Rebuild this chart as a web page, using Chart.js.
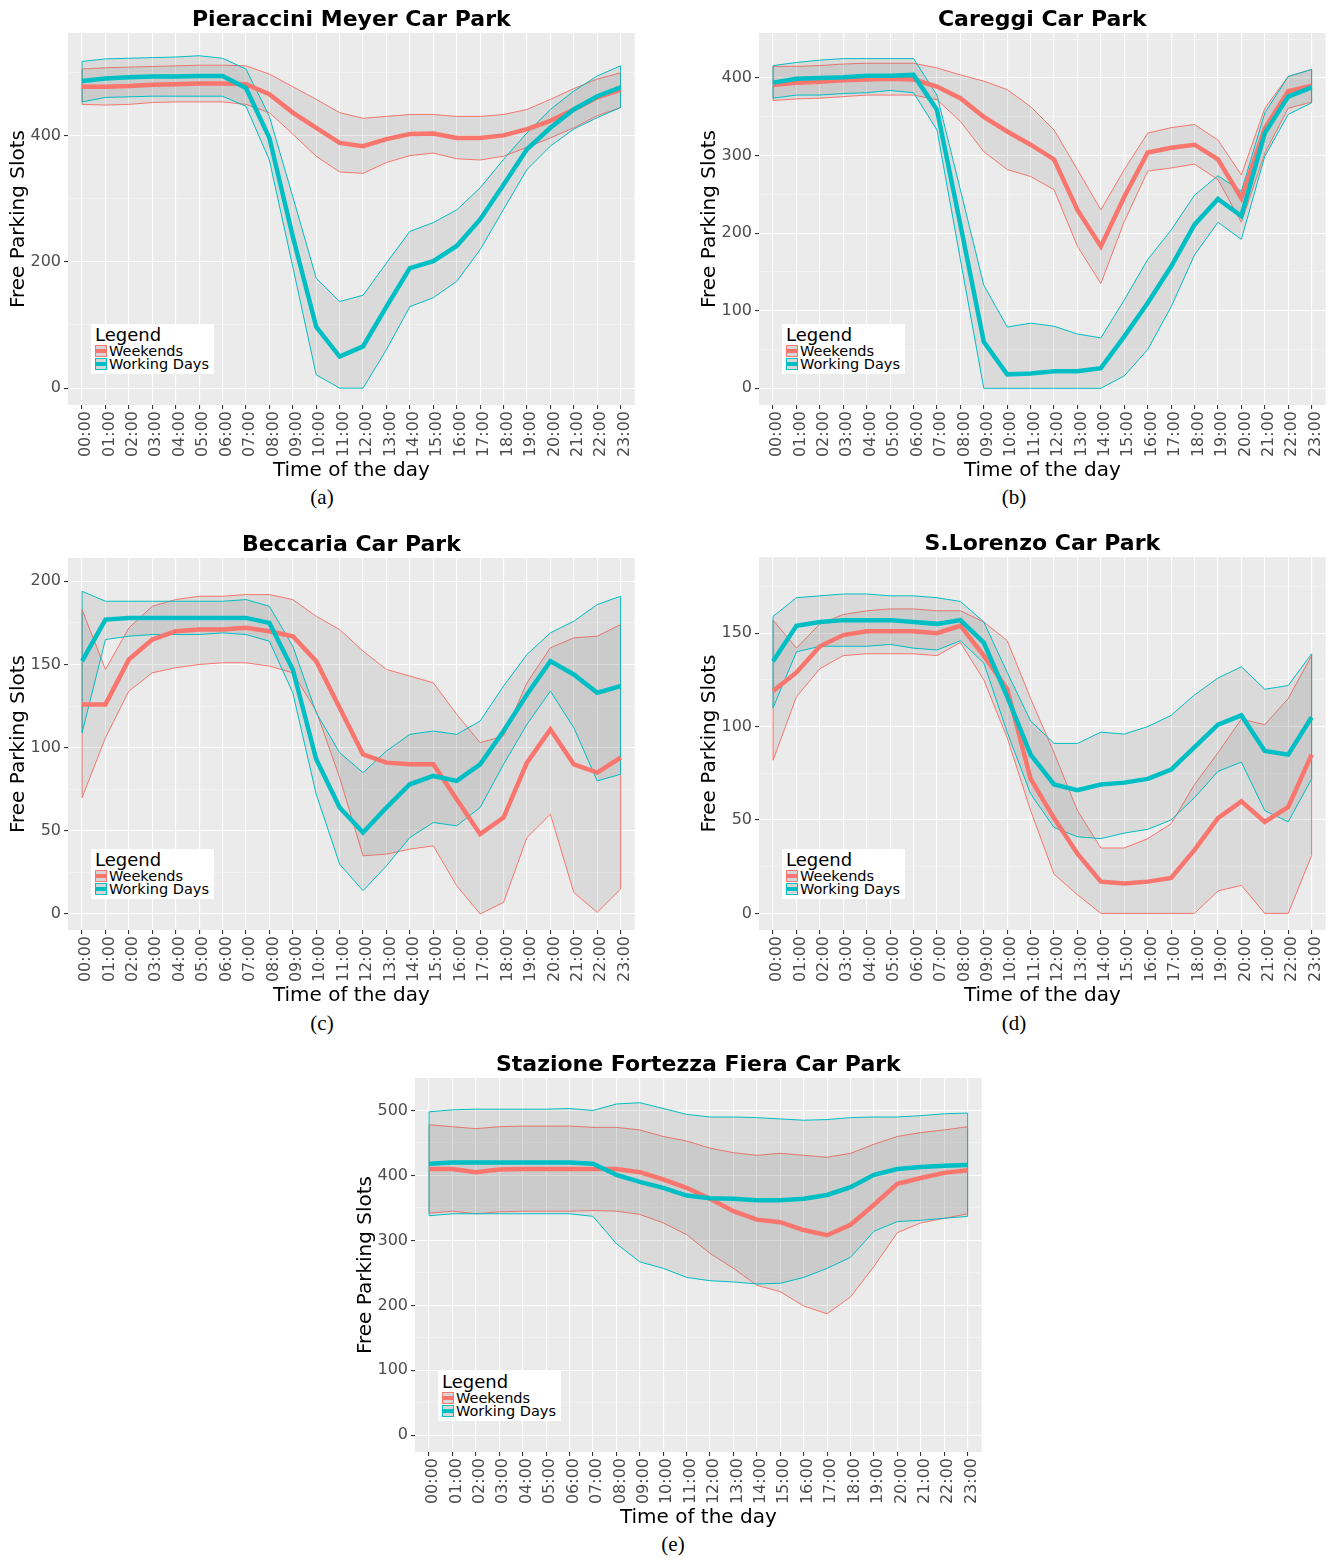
<!DOCTYPE html>
<html>
<head>
<meta charset="utf-8">
<script src="https://cdn.jsdelivr.net/npm/chart.js@4.4.1/dist/chart.umd.min.js"></script>
<style>
  body { margin: 0; background: #fff; }
  #page { position: relative; width: 1342px; height: 1558px; overflow: hidden; }
  canvas { position: absolute; }
  .legend { position: absolute; width: 123px; height: 50px; background: #fff; font-family: 'DejaVu Sans', sans-serif; color: #000; }
  .legend .ttl { position: absolute; left: 4px; top: 0; font-size: 18px; line-height: 22px; }
  .legend .key { position: absolute; left: 4px; width: 10px; height: 10px; border: 1px solid; background: #d6d6d6; }
  .legend .key i { position: absolute; left: 0; right: 0; top: 3px; height: 4px; }
  .legend .lab { position: absolute; left: 18px; font-size: 14.5px; line-height: 13px; white-space: nowrap; }
  .caption { position: absolute; width: 60px; text-align: center; font-family: 'Liberation Serif', serif; font-size: 21px; line-height: 24px; }
</style>
</head>
<body>
<div id="page"></div>
<script>
// horas do dia (eixo x)
const hours = ['00:00','01:00','02:00','03:00','04:00','05:00','06:00','07:00','08:00','09:00','10:00','11:00',
  '12:00','13:00','14:00','15:00','16:00','17:00','18:00','19:00','20:00','21:00','22:00','23:00'];

// (a) Pieraccini Meyer
const meyerWkMean = [477,477,478,480,481,482,482,481,465,436,412,388,383,394,402,403,396,396,400,410,423,441,460,472];
const meyerWkHigh = [505,507,508,509,510,511,511,510,497,477,457,436,427,430,433,433,430,430,433,441,457,474,489,499];
const meyerWkLow  = [449,448,449,452,453,453,453,449,436,402,367,342,340,357,368,372,363,361,367,381,396,412,431,444];
const meyerWdMean = [486,490,492,493,493,494,494,475,396,240,97,50,66,129,190,201,225,267,322,378,412,441,462,476];
const meyerWdHigh = [517,521,522,523,524,526,522,505,430,303,174,137,147,198,248,262,282,317,362,404,441,470,494,510];
const meyerWdLow  = [453,460,461,462,462,462,462,446,361,192,21,0,0,61,129,143,169,219,283,346,383,410,428,444];
const meyerMajor = [0, 200, 400];
const meyerMinor = [100, 300, 500];

// (b) Careggi
const careggiWkMean = [391,394,395,397,398,399,398,389,374,350,331,314,295,230,183,247,304,310,314,295,245,335,383,390];
const careggiWkHigh = [415,415,416,418,419,419,419,413,404,396,385,363,333,282,230,282,329,336,340,320,275,361,402,411];
const careggiWkLow  = [371,373,374,376,378,378,378,372,344,305,282,273,256,183,135,215,280,284,289,269,214,303,361,369];
const careggiWdMean = [394,399,400,401,403,403,404,359,211,60,18,19,22,22,26,67,110,157,211,244,222,329,376,388];
const careggiWdHigh = [416,420,423,425,425,425,425,378,256,133,79,84,80,70,65,114,166,204,249,274,254,355,402,411];
const careggiWdLow  = [374,378,378,380,381,384,381,333,166,0,0,0,0,0,0,16,50,105,172,214,192,299,353,368];
const careggiMajor = [0, 100, 200, 300, 400];
const careggiMinor = [50, 150, 250, 350, 450];

// (c) Beccaria
const beccariaWkMean = [126,126,153,165,170,171,171,172,170,167,152,124,96,91,90,90,69,48,58,91,111,90,85,94];
const beccariaWkHigh = [183,147,172,185,189,191,191,192,192,189,179,171,158,147,143,139,120,103,107,139,160,166,167,174];
const beccariaWkLow  = [70,106,134,145,148,150,151,151,149,145,122,82,35,36,39,41,17,0,7,46,60,13,1,15];
const beccariaWdMean = [152,177,178,178,178,178,178,178,175,147,93,64,49,64,78,83,80,90,110,132,152,144,133,137];
const beccariaWdHigh = [194,188,188,188,188,188,188,189,185,161,121,97,85,98,108,110,108,116,137,156,169,176,186,191];
const beccariaWdLow  = [109,165,167,168,168,168,169,168,164,133,72,30,14,29,46,55,53,64,90,114,134,112,80,84];
const beccariaMajor = [0, 50, 100, 150, 200];
const beccariaMinor = [25, 75, 125, 175];

// (d) S.Lorenzo
const lorenzoWkMean = [119,129,143,149,151,151,151,150,154,138,120,72,51,32,17,16,17,19,34,51,60,49,57,85];
const lorenzoWkHigh = [157,142,155,160,162,163,163,162,162,156,146,115,86,55,35,35,40,48,69,86,104,101,115,138];
const lorenzoWkLow  = [82,116,131,138,139,139,139,138,145,125,94,55,21,10,0,0,0,0,0,12,15,0,0,31];
const lorenzoWdMean = [135,154,156,157,157,157,156,155,157,145,116,85,69,66,69,70,72,77,89,101,106,87,85,105];
const lorenzoWdHigh = [159,169,170,171,171,170,170,169,167,156,129,103,91,91,97,96,100,106,117,126,132,120,122,139];
const lorenzoWdLow  = [110,140,143,143,143,144,142,141,146,134,97,64,46,41,40,43,45,50,62,76,81,55,49,72];
const lorenzoMajor = [0, 50, 100, 150];
const lorenzoMinor = [25, 75, 125, 175];

// (e) Stazione Fortezza Fiera
const fortezzaWkMean = [410,410,405,409,410,410,410,410,410,405,394,381,364,345,332,328,316,308,324,355,387,396,404,408];
const fortezzaWkHigh = [478,475,472,475,476,476,476,474,474,470,460,453,442,435,431,434,431,428,434,448,460,466,470,475];
const fortezzaWkLow  = [342,345,341,344,345,345,345,346,345,340,327,309,280,257,231,221,199,187,213,260,312,327,334,341];
const fortezzaWdMean = [418,420,420,420,420,420,420,418,401,390,381,369,365,364,362,362,364,370,382,401,410,413,415,416];
const fortezzaWdHigh = [498,501,502,502,502,502,503,500,510,512,503,494,490,490,489,487,485,486,489,490,490,492,495,496];
const fortezzaWdLow  = [338,341,341,341,341,341,341,337,295,267,257,243,238,236,233,234,243,257,274,314,329,331,334,337];
const fortezzaMajor = [0, 100, 200, 300, 400, 500];
const fortezzaMinor = [50, 150, 250, 350, 450];

const RED = '#F8766D';
const CYAN = '#00BFC4';
const BAND = 'rgba(120,120,120,0.15)';
const FONT = "'DejaVu Sans', sans-serif";

// painéis: área do gráfico (px na página) e escala y
const panels = [
  { title: 'Pieraccini Meyer Car Park', cap: '(a)', L: 68, T: 33, R: 636, B: 405, yMin: -26.7, yMax: 562,
    wk: [meyerWkMean, meyerWkHigh, meyerWkLow], wd: [meyerWdMean, meyerWdHigh, meyerWdLow], major: meyerMajor, minor: meyerMinor, capX: 322, capY: 497 },
  { title: 'Careggi Car Park', cap: '(b)', L: 759, T: 33, R: 1327, B: 405, yMin: -21.5, yMax: 458,
    wk: [careggiWkMean, careggiWkHigh, careggiWkLow], wd: [careggiWdMean, careggiWdHigh, careggiWdLow], major: careggiMajor, minor: careggiMinor, capX: 1014, capY: 497 },
  { title: 'Beccaria Car Park', cap: '(c)', L: 68, T: 558, R: 636, B: 930, yMin: -9.6, yMax: 214,
    wk: [beccariaWkMean, beccariaWkHigh, beccariaWkLow], wd: [beccariaWdMean, beccariaWdHigh, beccariaWdLow], major: beccariaMajor, minor: beccariaMinor, capX: 322, capY: 1023 },
  { title: 'S.Lorenzo Car Park', cap: '(d)', L: 759, T: 557, R: 1327, B: 930, yMin: -8.9, yMax: 190.8,
    wk: [lorenzoWkMean, lorenzoWkHigh, lorenzoWkLow], wd: [lorenzoWdMean, lorenzoWdHigh, lorenzoWdLow], major: lorenzoMajor, minor: lorenzoMinor, capX: 1014, capY: 1023 },
  { title: 'Stazione Fortezza Fiera Car Park', cap: '(e)', L: 415, T: 1078, R: 983, B: 1452, yMin: -25.7, yMax: 550,
    wk: [fortezzaWkMean, fortezzaWkHigh, fortezzaWkLow], wd: [fortezzaWdMean, fortezzaWdHigh, fortezzaWdLow], major: fortezzaMajor, minor: fortezzaMinor, capX: 673, capY: 1544 }
];

// fundo cinza do painel (estilo ggplot)
const plotBackground = {
  id: 'plotBackground',
  beforeDraw(chart) {
    const { ctx, chartArea: a } = chart;
    ctx.save();
    ctx.fillStyle = '#EBEBEB';
    ctx.fillRect(a.left, a.top, a.right - a.left, a.bottom - a.top);
    ctx.restore();
  }
};

// fecha as pontas das faixas com uma linha vertical
const ribbonEnds = {
  id: 'ribbonEnds',
  beforeDatasetsDraw(chart) {
    const ctx = chart.ctx;
    [[0, 1], [2, 3]].forEach(([hi, lo]) => {
      const top = chart.getDatasetMeta(hi).data;
      const bot = chart.getDatasetMeta(lo).data;
      ctx.save();
      ctx.strokeStyle = chart.data.datasets[hi].borderColor;
      ctx.lineWidth = 1;
      [0, top.length - 1].forEach(i => {
        ctx.beginPath();
        ctx.moveTo(top[i].x, top[i].y);
        ctx.lineTo(bot[i].x, bot[i].y);
        ctx.stroke();
      });
      ctx.restore();
    });
  }
};

const pts = arr => arr.map((v, i) => ({ x: i, y: v }));

const page = document.getElementById('page');

panels.forEach(p => {
  const canvas = document.createElement('canvas');
  canvas.width = p.R - p.L + 74;
  canvas.height = p.B - p.T + 113;
  canvas.style.left = (p.L - 68) + 'px';
  canvas.style.top = (p.T - 33) + 'px';
  page.appendChild(canvas);

  const allTicks = p.major.concat(p.minor).sort((a, b) => a - b);
  const isMajor = v => p.major.includes(v);

  new Chart(canvas, {
    type: 'line',
    data: {
      datasets: [
        { data: pts(p.wk[1]), borderColor: RED, borderWidth: 1, backgroundColor: BAND, fill: '+1', pointRadius: 0, order: 5 },
        { data: pts(p.wk[2]), borderColor: RED, borderWidth: 1, fill: false, pointRadius: 0, order: 4 },
        { data: pts(p.wd[1]), borderColor: CYAN, borderWidth: 1, backgroundColor: BAND, fill: '+1', pointRadius: 0, order: 3 },
        { data: pts(p.wd[2]), borderColor: CYAN, borderWidth: 1, fill: false, pointRadius: 0, order: 2 },
        { label: 'Weekends', data: pts(p.wk[0]), borderColor: RED, borderWidth: 4.5, fill: false, pointRadius: 0, order: 1 },
        { label: 'Working Days', data: pts(p.wd[0]), borderColor: CYAN, borderWidth: 4.5, fill: false, pointRadius: 0, order: 0 }
      ]
    },
    options: {
      responsive: false,
      animation: false,
      layout: { padding: { right: 6 } },
      plugins: {
        legend: { display: false },
        tooltip: { enabled: false },
        title: {
          display: true, text: p.title, fullSize: false, color: '#000',
          font: { family: FONT, size: 22, weight: 'bold' },
          padding: { top: 6.6, bottom: 0 }
        }
      },
      scales: {
        x: {
          type: 'linear', min: -0.6, max: 23.6,
          afterBuildTicks: s => { s.ticks = hours.map((h, i) => ({ value: i })); },
          afterFit: s => { s.height = 80; },
          ticks: {
            autoSkip: false, minRotation: 90, maxRotation: 90, padding: 2, labelOffset: 4,
            color: '#4D4D4D', font: { family: FONT, size: 16 },
            callback: v => hours[v]
          },
          grid: { color: '#FFFFFF', lineWidth: 1.1, tickLength: 4, tickColor: '#333333' },
          border: { display: false },
          title: { display: true, text: 'Time of the day', color: '#000', font: { family: FONT, size: 20 }, padding: { top: 0, bottom: 2 } }
        },
        y: {
          min: p.yMin, max: p.yMax,
          afterBuildTicks: s => { s.ticks = allTicks.map(v => ({ value: v })); },
          afterFit: s => { s.width = 68; },
          ticks: {
            padding: 3, color: '#4D4D4D', font: { family: FONT, size: 16 },
            callback: v => isMajor(v) ? String(v) : ''
          },
          grid: {
            color: c => isMajor(c.tick.value) ? '#FFFFFF' : '#F6F6F6',
            lineWidth: c => isMajor(c.tick.value) ? 1.1 : 0.6,
            tickLength: 4,
            tickColor: c => isMajor(c.tick.value) ? '#333333' : 'rgba(0,0,0,0)'
          },
          border: { display: false },
          title: { display: true, text: 'Free Parking Slots', color: '#000', font: { family: FONT, size: 20 }, padding: { top: 7, bottom: 0 } }
        }
      }
    },
    plugins: [plotBackground, ribbonEnds]
  });

  // legenda dentro do painel, canto inferior esquerdo
  const leg = document.createElement('div');
  leg.className = 'legend';
  leg.style.left = (p.L + 23) + 'px';
  leg.style.top = (p.B - 81) + 'px';
  leg.innerHTML =
    '<div class="ttl">Legend</div>' +
    '<div class="key" style="top:21px;border-color:' + RED + '"><i style="background:' + RED + '"></i></div>' +
    '<div class="lab" style="top:21px">Weekends</div>' +
    '<div class="key" style="top:34px;border-color:' + CYAN + '"><i style="background:' + CYAN + '"></i></div>' +
    '<div class="lab" style="top:34px">Working Days</div>';
  page.appendChild(leg);

  const cap = document.createElement('div');
  cap.className = 'caption';
  cap.textContent = p.cap;
  cap.style.left = (p.capX - 30) + 'px';
  cap.style.top = (p.capY - 12) + 'px';
  page.appendChild(cap);
});
</script>
</body>
</html>
